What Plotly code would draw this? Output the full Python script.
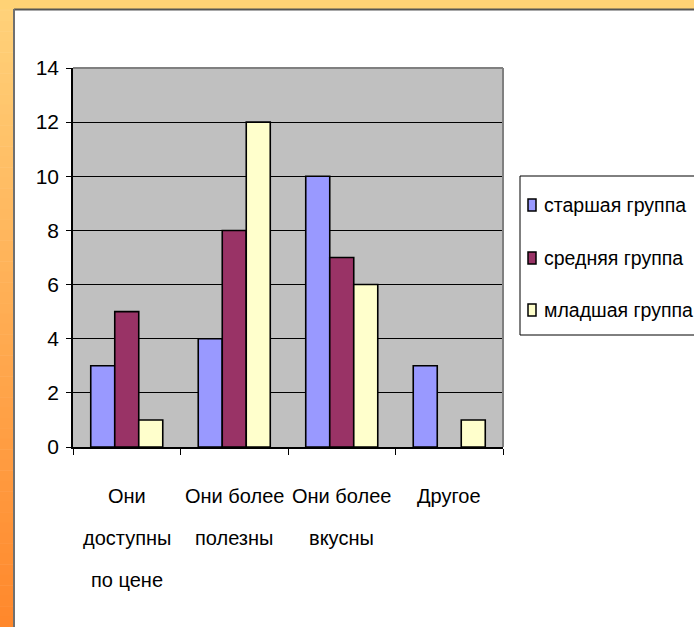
import plotly.graph_objects as go

# ---------------- data ----------------
categories = ["Они доступны по цене", "Они более полезны", "Они более вкусны", "Другое"]
category_lines = [["Они", "доступны", "по цене"], ["Они более", "полезны"], ["Они более", "вкусны"], ["Другое"]]
series_names = ["старшая группа", "средняя группа", "младшая группа"]
senior = [3, 4, 10, 3]
middle = [5, 8, 7, None]
junior = [1, 12, 6, 1]
series_values = [senior, middle, junior]
series_colors = ["#9999FF", "#993366", "#FFFFCC"]
y_ticks = [0, 2, 4, 6, 8, 10, 12, 14]

# ---------------- geometry helpers ----------------
W, H = 694, 627
PL, PR, PT, PB = 73, 503, 68, 447  # plot area in pixels


def px(x):
    return (x - PL) / (PR - PL)


def py(y):
    return (PB - y) / (PB - PT)


FONT = "Liberation Sans, Arial, sans-serif"

fig = go.Figure()
for name, vals, col in zip(series_names, series_values, series_colors):
    fig.add_trace(go.Bar(
        x=categories, y=vals, name=name,
        marker=dict(color=col, line=dict(color="black", width=1.6)),
        showlegend=False,
    ))

shapes = []
# orange frame (gradient approximated by bands)
top_c = (0xFF, 0xD2, 0x7A)
bot_c = (0xFF, 0x88, 0x2C)
n = 60
for i in range(n):
    t = i / (n - 1)
    c = tuple(int(round(top_c[k] + (bot_c[k] - top_c[k]) * t)) for k in range(3))
    y0 = H * i / n
    y1 = H * (i + 1) / n + 0.5
    shapes.append(dict(type="rect", xref="paper", yref="paper", layer="below",
                       x0=px(0), x1=px(14), y0=py(y0), y1=py(y1),
                       fillcolor="rgb(%d,%d,%d)" % c, line=dict(width=0)))
shapes.append(dict(type="rect", xref="paper", yref="paper", layer="below",
                   x0=px(0), x1=px(W + 5), y0=py(0), y1=py(9),
                   fillcolor="#FFD275", line=dict(width=0)))
# dark edge of white panel
shapes.append(dict(type="line", xref="paper", yref="paper", layer="below",
                   x0=px(14), x1=px(W + 5), y0=py(9.5), y1=py(9.5),
                   line=dict(color="#555555", width=2)))
shapes.append(dict(type="line", xref="paper", yref="paper", layer="below",
                   x0=px(14), x1=px(14), y0=py(9), y1=py(H + 5),
                   line=dict(color="#707070", width=2)))
# gray top/right border of plot area
shapes.append(dict(type="line", xref="paper", yref="paper", layer="above",
                   x0=0, x1=1, y0=1, y1=1, line=dict(color="#808080", width=2)))
shapes.append(dict(type="line", xref="paper", yref="paper", layer="above",
                   x0=1, x1=1, y0=0, y1=1, line=dict(color="#808080", width=2)))

# manual legend box
shapes.append(dict(type="rect", xref="paper", yref="paper",
                   x0=px(520), x1=px(W + 10), y0=py(335), y1=py(176),
                   fillcolor="white", line=dict(color="black", width=1), layer="below"))
annotations = []
legend_centers = [205, 258, 310]
for name, col, cy in zip(series_names, series_colors, legend_centers):
    shapes.append(dict(type="rect", xref="paper", yref="paper",
                       x0=px(528), x1=px(536), y0=py(cy + 6), y1=py(cy - 6),
                       fillcolor=col, line=dict(color="black", width=1.5)))
    annotations.append(dict(text=name, x=px(542), y=py(cy), xref="paper", yref="paper",
                            xanchor="left", yanchor="middle", showarrow=False,
                            font=dict(family=FONT, size=19.5, color="black")))

# category labels (multi-line, wide line spacing)
line_gap = 42
first_center = 496
for cat, lines in zip(categories, category_lines):
    for j, ln in enumerate(lines):
        cy = first_center + j * line_gap
        annotations.append(dict(text=ln, x=cat, xref="x", y=py(cy), yref="paper",
                                xanchor="center", yanchor="middle", showarrow=False,
                                font=dict(family=FONT, size=20, color="black")))

fig.update_layout(
    width=W, height=H,
    margin=dict(l=PL, r=W - PR, t=PT, b=H - PB, pad=0, autoexpand=False),
    paper_bgcolor="white",
    plot_bgcolor="#C0C0C0",
    barmode="group",
    bargap=0.33,
    bargroupgap=0,
    showlegend=False,
    shapes=shapes,
    annotations=annotations,
    xaxis=dict(
        type="category", showticklabels=False, ticks="outside", tickson="boundaries",
        ticklen=6, tickwidth=1, tickcolor="black", showline=True, linecolor="black",
        linewidth=1.5, showgrid=False, zeroline=False, fixedrange=True,
    ),
    yaxis=dict(
        range=[0, 14], tickvals=y_ticks, ticks="outside", ticklen=5, tickwidth=1,
        tickcolor="black", showline=True, linecolor="black", linewidth=1.5,
        showgrid=True, gridcolor="black", gridwidth=1, zeroline=False,
        ticklabelstandoff=3,
        tickfont=dict(family=FONT, size=21, color="black"),
    ),
)

fig.write_html("out.html")
